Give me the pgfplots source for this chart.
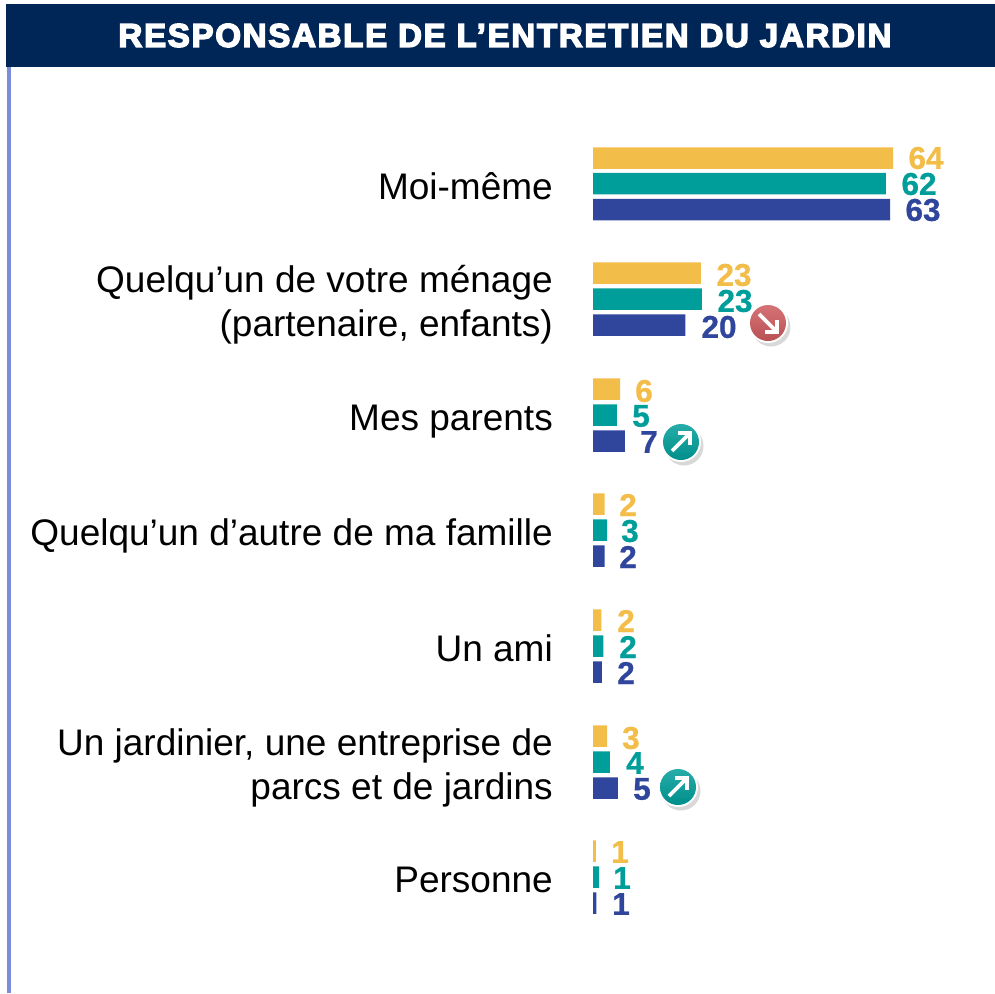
\documentclass[border=0pt]{standalone}
\usepackage{fontspec}
\setmainfont{Liberation Sans}
\newfontfamily\titlefont[FakeBold=4.5,LetterSpace=5.3]{Liberation Sans Bold}
\newfontfamily\numfont[FakeBold=0.8]{Liberation Sans Bold}
\usepackage{pgfplots}
\usepackage{pgfplotstable}
\pgfplotsset{compat=1.18}
\definecolor{cyel}{HTML}{F2BD49}
\definecolor{cteal}{HTML}{009E9A}
\definecolor{cblue}{HTML}{30459C}
\definecolor{cnavy}{HTML}{002557}
\definecolor{cline}{HTML}{7B8CD9}
\definecolor{cred}{HTML}{CE5A5E}
% value, y position (px from the top)
\pgfplotstableread{
v y
64.0 158
23.0 273
5.8 389
2.5 504
1.8 620
3.0 736
0.6 851
}\yeardata
\pgfplotstableread{
v y
62.5 183.5
23.2 299
5.1 415
3.0 530
2.2 646
3.6 762
1.3 877
}\tealdata
\pgfplotstableread{
v y
63.4 209.5
19.7 325
6.8 441
2.5 556
1.9 672
5.3 788
0.7 903
}\bluedata
\newcommand\PX[1]{{(#1-593)/4.6875}}
\newcommand\lab[4]{\node[text=#1,font=\fontsize{31.5}{31.5}\selectfont\numfont,anchor=center,inner sep=0pt] at (axis cs:\PX{#2},#3) {#4};}
\newcommand\cat[2]{\node[anchor=base east,font=\fontsize{37}{37}\selectfont,text=black,inner sep=0pt] at (axis cs:\PX{553},#1) {#2};}
% #1 x, #2 y, #3 colour, #4 direction in y of the arrow (+1 up-right, -1 down-right)
\newcommand\icon[4]{%
 \fill[black!30,opacity=.5] (axis cs:\PX{#1+3},#2+4) circle[radius=19.5pt];
 \fill[white] (axis cs:\PX{#1},#2) circle[radius=20pt];
 \shade[top color=#3!85!white,bottom color=#3!90!black] (axis cs:\PX{#1},#2) circle[radius=18pt];
 \draw[white,line width=3.6pt] (axis cs:\PX{#1-9},#2+#4*9) -- (axis cs:\PX{#1+8},#2-#4*8);
 \draw[white,line width=3.6pt] (axis cs:\PX{#1-3},#2-#4*9) -- (axis cs:\PX{#1+9},#2-#4*9) -- (axis cs:\PX{#1+9},#2+#4*3);
}
\begin{document}
\begin{tikzpicture}
\begin{axis}[
  at={(0pt,0pt)},anchor=south west,
  scale only axis,width=995pt,height=993pt,
  xmin=-126.5067,xmax=85.76,ymin=0,ymax=993,y dir=reverse,
  hide axis,clip=false,
  xbar,bar shift=0pt,bar width=21.5pt,
]
\path (rel axis cs:0,0) rectangle (rel axis cs:1,1);
% header and side rule
\fill[cline] (axis cs:\PX{7},60) rectangle (axis cs:\PX{10.5},993);
\fill[cnavy] (axis cs:\PX{5.5},3.5) rectangle (axis cs:\PX{995},67);
\node[text=white,font=\fontsize{33}{33}\selectfont\titlefont,anchor=center,inner sep=0pt] at (axis cs:\PX{505},35.5) {RESPONSABLE DE L’ENTRETIEN DU JARDIN};
\addplot[fill=cyel,draw=none] table[x=v,y=y] {\yeardata};
\addplot[fill=cteal,draw=none] table[x=v,y=y] {\tealdata};
\addplot[fill=cblue,draw=none] table[x=v,y=y] {\bluedata};
\cat{199}{Moi-même}
\cat{292}{Quelqu’un de votre ménage}
\cat{336}{(partenaire, enfants)}
\cat{430}{Mes parents}
\cat{545}{Quelqu’un d’autre de ma famille}
\cat{661}{Un ami}
\cat{755}{Un jardinier, une entreprise de}
\cat{799}{parcs et de jardins}
\cat{892}{Personne}
\lab{cyel}{926}{158}{64}\lab{cteal}{919}{184}{62}\lab{cblue}{923}{210}{63}
\lab{cyel}{734}{275}{23}\lab{cteal}{735}{301}{23}\lab{cblue}{719}{327}{20}
\lab{cyel}{644}{391}{6}\lab{cteal}{641}{416}{5}\lab{cblue}{649}{442}{7}
\lab{cyel}{628}{505}{2}\lab{cteal}{630}{531}{3}\lab{cblue}{628}{557}{2}
\lab{cyel}{626}{621}{2}\lab{cteal}{628}{647}{2}\lab{cblue}{626}{673}{2}
\lab{cyel}{631}{738}{3}\lab{cteal}{635}{763}{4}\lab{cblue}{642}{789}{5}
\lab{cyel}{620}{852}{1}\lab{cteal}{622}{878}{1}\lab{cblue}{621}{904}{1}
\icon{768}{323}{cred}{-1}
\icon{681}{442}{cteal}{1}
\icon{678}{787}{cteal}{1}
\end{axis}
\end{tikzpicture}
\end{document}
